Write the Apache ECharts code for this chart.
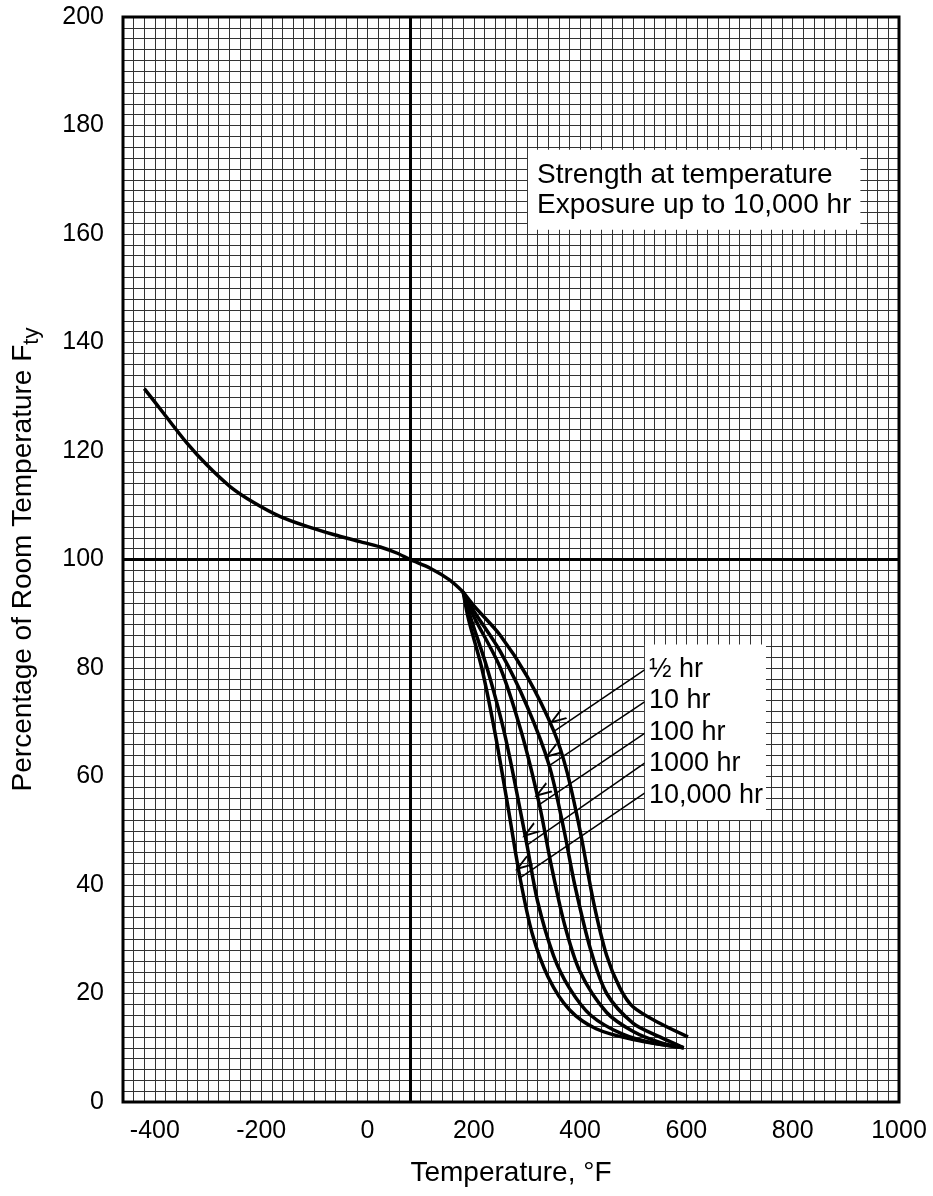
<!DOCTYPE html>
<html><head><meta charset="utf-8">
<script src="https://cdn.jsdelivr.net/npm/echarts@6/dist/echarts.min.js"></script>
<style>html,body{margin:0;padding:0;background:#fff}#c{width:933px;height:1196px}</style>
</head><body><div id="c"></div>
<script>
// ---- data ----
const commonCurve = [[-420,131.5],[-384,127],[-340,121.5],[-302,117.4],[-258,113.4],[-214,110.5],[-164,107.9],[-114,106.1],[-64,104.6],[-14,103.3],[24,102.3],[55,101.2],[80,100],[118,98.4],[155,96.2],[180,94]];
const curveHalfHr = [[180,94],[200,91.5],[250,86],[300,78.5],[350,68.5],[375,61],[400,50],[425,37],[450,27],[475,21],[500,17.5],[550,14.5],[603,12]];
const curve10Hr = [[180,94],[200,90.5],[250,83],[300,73],[342,62],[370,50],[390,40],[420,28],[450,20],[500,14.5],[550,12],[595,10]];
const curve100Hr = [[180,94],[200,89.5],[250,80],[290,68],[323,55],[345,44],[370,33],[400,24],[450,16.5],[500,13],[550,11],[595,10]];
const curve1000Hr = [[180,94],[195,89],[225,80],[260,67],[300,47.4],[320,37],[350,27],[380,21],[420,16],[480,12.5],[540,10.8],[595,10]];
const curve10000Hr = [[180,94],[190,89],[215,80],[240,68],[265,54],[287,41.3],[310,31],[340,23],[380,17],[430,13.5],[500,11.5],[595,10]];
const curveLabels = ['\u00BD hr','10 hr','100 hr','1000 hr','10,000 hr'];
const arrowFrom = [[522,79.7],[522,73.8],[522,68.0],[522,62.5],[522,57.0]];
const arrowTo = [[350.8,68.3],[342,62],[323.2,54.8],[300.6,47.4],[286.9,41.3]];
const noteLines = ['Strength at temperature','Exposure up to 10,000 hr'];
const noteAnchor = [302,175.5];
const labelAnchor = [522,84.3];
const roomTemp = 80;
const refPercent = 100;
const xMin = -460, xMax = 1000, xStep = 20, xLabelStep = 200;
const yMin = 0, yMax = 200, yStep = 2, yLabelStep = 20;

const FONT = "'Liberation Sans', Arial, sans-serif";
const curveStyle = {color:'#000', width:3.5};
function curveSeries(name, data){
  return {name:name, type:'line', data:data, smooth:0.3, showSymbol:false, symbol:'none',
    lineStyle:curveStyle, z:5, silent:true, animation:false};
}
const chevron = 'path://M5,0 L10,16 L8.3,16 L5,5.4 L1.7,16 L0,16 Z';

const option = {
  animation:false,
  backgroundColor:'#fff',
  grid:{left:123, right:34, top:17, bottom:94, show:true, borderColor:'#000', borderWidth:3, backgroundColor:'transparent', z:10},
  xAxis:{type:'value', min:xMin, max:xMax, interval:xStep,
    axisLine:{show:false}, axisTick:{show:false},
    axisLabel:{color:'#000', fontSize:25, fontFamily:FONT, margin:17,
      formatter:v => (v % xLabelStep === 0 ? String(v) : '')},
    splitLine:{show:true, lineStyle:{color:'#333', width:1}},
    name:'Temperature, \u00B0F', nameLocation:'middle', nameGap:57,
    nameTextStyle:{color:'#000', fontSize:28, fontFamily:FONT}},
  yAxis:{type:'value', min:yMin, max:yMax, interval:yStep,
    axisLine:{show:false}, axisTick:{show:false},
    axisLabel:{color:'#000', fontSize:25, fontFamily:FONT, margin:19,
      formatter:v => (v % yLabelStep === 0 ? String(v) : '')},
    splitLine:{show:true, lineStyle:{color:'#333', width:1}},
    name:'{a|Percentage of Room Temperature F}{s|ty}', nameLocation:'middle', nameGap:80,
    nameTextStyle:{color:'#000', fontFamily:FONT,
      rich:{a:{fontSize:28, lineHeight:40, fontFamily:FONT, color:'#000', verticalAlign:'middle'},
            s:{fontSize:22, lineHeight:22, fontFamily:FONT, color:'#000', verticalAlign:'bottom'}}}},
  series:[
    Object.assign(curveSeries('common', commonCurve), {
      markLine:{silent:true, symbol:'none', label:{show:false}, animation:false,
        lineStyle:{color:'#000', width:3, type:'solid'},
        data:[{xAxis:roomTemp},{yAxis:refPercent}]}
    }),
    curveSeries('\u00BD hr', curveHalfHr),
    curveSeries('10 hr', curve10Hr),
    curveSeries('100 hr', curve100Hr),
    curveSeries('1000 hr', curve1000Hr),
    curveSeries('10,000 hr', curve10000Hr),
    {type:'scatter', data:[], silent:true, z:6,
      markLine:{silent:true, animation:false, symbol:['none', chevron], symbolSize:[12,18], symbolOffset:[0,9],
        label:{show:false}, lineStyle:{color:'#000', width:1.5, type:'solid'},
        itemStyle:{color:'#000'},
        data:arrowFrom.map((p,i)=>[{coord:p},{coord:arrowTo[i]}])}},
    {type:'scatter', silent:true, z:20, symbol:'rect', symbolSize:0.1, itemStyle:{color:'#fff', opacity:1},
      data:[{value:noteAnchor, text:noteLines.join('\n'), pad:[10,9,10,9], lh:30, fs:28},
            {value:labelAnchor, text:curveLabels.join('\n'), pad:[9,3,9,4], lh:31.5, fs:27}].map(d=>({
        value:d.value,
        label:{show:true, position:[0,0], align:'left', verticalAlign:'top', opacity:1,
          formatter:d.text, color:'#000', fontSize:d.fs, lineHeight:d.lh, fontFamily:FONT,
          textBorderWidth:0, textShadowBlur:0,
          backgroundColor:'#fff', padding:d.pad}
      }))}
  ]
};
const chart = echarts.init(document.getElementById('c'), null, {renderer:'canvas'});
chart.setOption(option);
</script></body></html>
